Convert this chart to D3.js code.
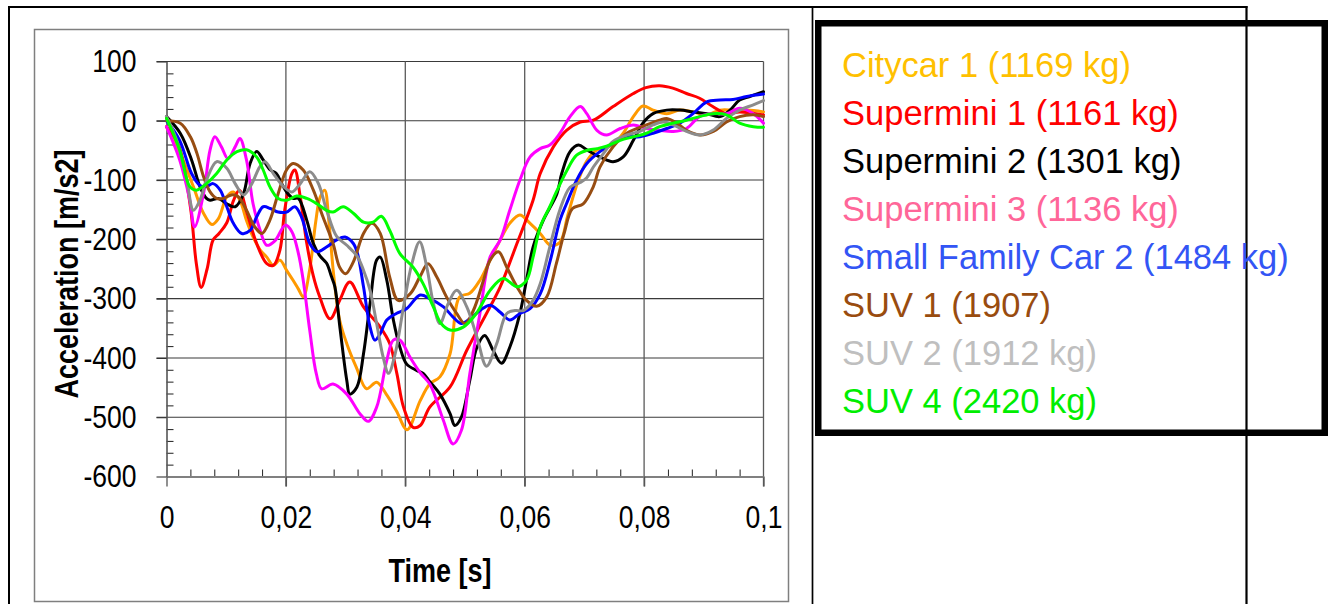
<!DOCTYPE html>
<html>
<head>
<meta charset="utf-8">
<script src="https://cdn.jsdelivr.net/npm/d3@7"></script>
<style>
  html, body { margin: 0; padding: 0; background: #fff; }
  svg { display: block; }
  text { font-family: "Liberation Sans", Arial, sans-serif; }
</style>
</head>
<body>
<svg id="chart" width="1328" height="604"></svg>
<script>
// Crash pulses: time [s] vs acceleration [m/s2], one array per vehicle
const citycar1 = [[0,-10],[0.0023,-55],[0.0045,-111],[0.0062,-156],[0.0076,-175],[0.0087,-165],[0.0101,-128],[0.0112,-120],[0.0123,-134],[0.0134,-168],[0.0145,-196],[0.0157,-218],[0.0168,-230],[0.0179,-244],[0.019,-235],[0.0201,-252],[0.0212,-269],[0.0221,-284],[0.0229,-297],[0.0240,-250],[0.0250,-170],[0.0257,-130],[0.0265,-117],[0.0272,-170],[0.0280,-260],[0.029,-336],[0.0302,-376],[0.0318,-416],[0.0335,-452],[0.0352,-441],[0.0368,-461],[0.0385,-489],[0.0403,-521],[0.0425,-472],[0.0441,-444],[0.0458,-432],[0.0475,-393],[0.0491,-297],[0.0508,-291],[0.0525,-269],[0.0542,-235],[0.0559,-201],[0.0575,-173],[0.0592,-159],[0.0609,-173],[0.0626,-190],[0.0643,-210],[0.0659,-205],[0.0672,-160],[0.0690,-100],[0.0704,-68],[0.0721,-49],[0.0737,-46],[0.0750,-38],[0.0765,-21],[0.0782,7],[0.0798,25],[0.0815,18],[0.0838,12],[0.0860,18],[0.0882,15],[0.0905,10],[0.0927,18],[0.0949,18],[0.0972,18],[0.1,15]];
const supermini1 = [[0,-10],[0.002,-40],[0.004,-145],[0.005,-241],[0.0058,-281],[0.0068,-250],[0.0078,-201],[0.0088,-190],[0.0101,-172],[0.0112,-135],[0.0122,-117],[0.0135,-156],[0.0151,-207],[0.0168,-241],[0.0179,-244],[0.019,-218],[0.0198,-151],[0.021,-89],[0.0215,-83],[0.0224,-128],[0.0235,-207],[0.0246,-262],[0.0256,-295],[0.0274,-334],[0.029,-303],[0.0307,-272],[0.033,-314],[0.0358,-348],[0.0374,-376],[0.0386,-427],[0.0397,-483],[0.0413,-517],[0.0425,-514],[0.0441,-483],[0.0475,-449],[0.0503,-387],[0.0536,-325],[0.0559,-280],[0.0587,-207],[0.0614,-134],[0.0626,-89],[0.0648,-44],[0.067,-16],[0.0693,-2],[0.0715,1],[0.0748,24],[0.0782,46],[0.0803,56],[0.0826,59],[0.0848,55],[0.0871,46],[0.0893,38],[0.0915,24],[0.0938,12],[0.096,15],[0.1,10]];
const supermini2 = [[0,7],[0.0023,-21],[0.0042,-66],[0.0056,-111],[0.0067,-131],[0.0073,-134],[0.0087,-131],[0.0101,-140],[0.0115,-145],[0.0129,-123],[0.014,-72],[0.0151,-52],[0.0162,-66],[0.0174,-83],[0.0184,-89],[0.0193,-106],[0.0201,-120],[0.0212,-131],[0.0221,-131],[0.0235,-168],[0.0246,-207],[0.0257,-228],[0.0268,-240],[0.0276,-262],[0.0282,-280],[0.0291,-353],[0.0302,-438],[0.0307,-461],[0.0319,-449],[0.033,-393],[0.0341,-308],[0.0352,-235],[0.0358,-230],[0.0369,-269],[0.038,-336],[0.0391,-382],[0.0402,-410],[0.0419,-421],[0.043,-426],[0.0441,-440],[0.0458,-461],[0.0475,-494],[0.0483,-514],[0.0494,-500],[0.0508,-438],[0.052,-382],[0.0533,-362],[0.0547,-387],[0.0561,-409],[0.0575,-382],[0.0592,-325],[0.0603,-269],[0.0614,-213],[0.0631,-168],[0.0654,-123],[0.0662,-89],[0.0676,-52],[0.069,-41],[0.0704,-49],[0.0726,-61],[0.0748,-69],[0.0765,-61],[0.0782,-33],[0.0798,-4],[0.0815,12],[0.0838,18],[0.086,18],[0.0882,15],[0.0905,12],[0.0927,7],[0.0944,18],[0.096,35],[0.0977,41],[0.1,49]];
const supermini3 = [[0,-10],[0.0022,-66],[0.0039,-134],[0.0047,-179],[0.0062,-123],[0.0073,-49],[0.0081,-27],[0.0092,-44],[0.0103,-64],[0.0115,-44],[0.0123,-30],[0.0134,-66],[0.0145,-140],[0.0157,-185],[0.0168,-210],[0.0182,-202],[0.0199,-176],[0.021,-187],[0.0221,-224],[0.0229,-269],[0.024,-354],[0.0251,-427],[0.026,-452],[0.0279,-444],[0.0302,-461],[0.0324,-494],[0.0338,-507],[0.0352,-483],[0.0369,-404],[0.038,-370],[0.0391,-370],[0.0408,-399],[0.0425,-425],[0.0441,-444],[0.0450,-465],[0.0464,-506],[0.048,-545],[0.0494,-522],[0.0508,-427],[0.0525,-325],[0.0542,-230],[0.0559,-201],[0.0575,-151],[0.0592,-100],[0.0609,-61],[0.0626,-47],[0.0642,-41],[0.0659,-21],[0.0676,7],[0.0693,24],[0.0704,12],[0.0721,-16],[0.0737,-24],[0.0760,-13],[0.0782,-7],[0.0804,-13],[0.0826,-16],[0.0849,-18],[0.0871,-13],[0.0893,7],[0.0915,12],[0.0938,12],[0.096,21],[0.0983,12],[0.1,-4]];
const smallFamilyCar2 = [[0,0],[0.0022,-33],[0.0042,-89],[0.0056,-109],[0.0067,-111],[0.0078,-106],[0.0090,-117],[0.0101,-145],[0.0112,-173],[0.0126,-190],[0.014,-185],[0.0151,-162],[0.0162,-145],[0.0174,-148],[0.0187,-154],[0.0201,-154],[0.0215,-145],[0.0226,-162],[0.024,-207],[0.0252,-221],[0.0268,-213],[0.0285,-201],[0.0299,-196],[0.0313,-207],[0.0320,-224],[0.0330,-280],[0.0341,-348],[0.0349,-370],[0.0358,-359],[0.0369,-336],[0.0385,-325],[0.0402,-317],[0.0425,-294],[0.0441,-300],[0.0464,-314],[0.048,-331],[0.0494,-342],[0.0508,-334],[0.0525,-320],[0.0542,-311],[0.0559,-323],[0.0575,-336],[0.0592,-325],[0.0609,-317],[0.0626,-292],[0.0643,-235],[0.0659,-168],[0.0670,-140],[0.0687,-100],[0.0704,-72],[0.0726,-52],[0.0748,-38],[0.0771,-27],[0.0793,-27],[0.0815,-21],[0.0838,-13],[0.086,-4],[0.0882,12],[0.0905,32],[0.0927,35],[0.0949,36],[0.0972,41],[0.1,45]];
const suv1 = [[0,0],[0.0023,-4],[0.004,-27],[0.0051,-55],[0.0062,-94],[0.0073,-120],[0.0084,-131],[0.0095,-131],[0.0109,-125],[0.012,-128],[0.0134,-151],[0.0148,-179],[0.016,-190],[0.0173,-168],[0.0187,-123],[0.0201,-83],[0.0212,-72],[0.0229,-83],[0.0246,-117],[0.0262,-162],[0.0279,-207],[0.029,-247],[0.0300,-258],[0.0313,-238],[0.033,-190],[0.0344,-173],[0.0358,-190],[0.0374,-264],[0.0388,-303],[0.0408,-292],[0.0425,-262],[0.0438,-241],[0.0453,-264],[0.0469,-297],[0.0486,-325],[0.05,-342],[0.0514,-320],[0.0531,-269],[0.0542,-235],[0.0556,-221],[0.057,-247],[0.0587,-280],[0.0603,-303],[0.062,-313],[0.0637,-297],[0.0653,-241],[0.0666,-190],[0.068,-148],[0.0698,-140],[0.0715,-111],[0.0726,-78],[0.0748,-44],[0.0771,-21],[0.0804,-7],[0.0826,1],[0.0838,4],[0.0855,-4],[0.0871,-16],[0.0894,-24],[0.0916,-18],[0.0938,-2],[0.096,7],[0.0983,10],[0.1,7]];
const suv2 = [[0,7],[0.0017,-33],[0.0034,-100],[0.0045,-151],[0.0056,-134],[0.0067,-100],[0.0084,-69],[0.0101,-80],[0.0115,-106],[0.0129,-125],[0.0143,-106],[0.0156,-78],[0.0165,-69],[0.0179,-89],[0.0196,-111],[0.021,-120],[0.0224,-106],[0.024,-86],[0.0254,-105],[0.0268,-150],[0.0285,-195],[0.0302,-210],[0.0319,-228],[0.033,-252],[0.0341,-286],[0.0352,-342],[0.0363,-399],[0.0372,-426],[0.0383,-393],[0.0397,-314],[0.0411,-241],[0.0424,-204],[0.0436,-247],[0.0447,-308],[0.0458,-342],[0.0472,-308],[0.0486,-286],[0.0503,-314],[0.052,-365],[0.0536,-414],[0.0553,-376],[0.057,-325],[0.0584,-320],[0.0598,-320],[0.0614,-303],[0.0626,-275],[0.0642,-213],[0.0659,-150],[0.0676,-112],[0.0693,-104],[0.0704,-96],[0.0715,-78],[0.0732,-55],[0.0748,-35],[0.0771,-24],[0.0793,-18],[0.0815,-7],[0.0832,-2],[0.0849,-7],[0.0871,-18],[0.0893,-24],[0.0915,-16],[0.0938,4],[0.096,18],[0.0983,27],[0.1,34]];
const suv4 = [[0,4],[0.0022,-49],[0.0039,-111],[0.0050,-117],[0.0067,-106],[0.0084,-89],[0.0101,-66],[0.0118,-52],[0.0134,-49],[0.0151,-61],[0.0162,-83],[0.0173,-111],[0.0187,-131],[0.0201,-134],[0.0218,-127],[0.0235,-131],[0.0252,-140],[0.0268,-151],[0.0279,-154],[0.0296,-145],[0.0313,-156],[0.033,-171],[0.0346,-171],[0.036,-161],[0.0374,-185],[0.0391,-224],[0.0413,-247],[0.043,-275],[0.0447,-314],[0.046,-342],[0.0475,-353],[0.0497,-348],[0.0519,-325],[0.0542,-286],[0.0564,-266],[0.0587,-280],[0.0603,-269],[0.0614,-230],[0.0626,-179],[0.0642,-145],[0.0653,-120],[0.0670,-85],[0.0687,-58],[0.0704,-50],[0.0721,-47],[0.0737,-43],[0.076,-33],[0.0782,-27],[0.0804,-21],[0.0826,-10],[0.0849,-4],[0.0871,1],[0.0893,7],[0.0915,12],[0.0938,10],[0.096,-4],[0.0983,-10],[0.1,-11]];

const seriesLabels = ["Citycar 1 (1169 kg)", "Supermini 1 (1161 kg)", "Supermini 2 (1301 kg)", "Supermini 3 (1136 kg)",
                      "Small Family Car 2 (1484 kg)", "SUV 1 (1907)", "SUV 2 (1912 kg)", "SUV 4 (2420 kg)"];
const seriesValues = [citycar1, supermini1, supermini2, supermini3, smallFamilyCar2, suv1, suv2, suv4];

const yTicks = [-600, -500, -400, -300, -200, -100, 0, 100];
const xTicks = [0, 0.02, 0.04, 0.06, 0.08, 0.1];
const xTickLabels = ["0", "0,02", "0,04", "0,06", "0,08", "0,1"];
const xTitle = "Time [s]";
const yTitle = "Acceleration [m/s2]";

// Styling
const lineColors = ["#FF9900", "#FF0000", "#000000", "#FF00FF", "#0000FF", "#974D12", "#8C8C8C", "#00FF00"];
const legendColors = ["#FFC000", "#FF0000", "#000000", "#FF6699", "#3355F5", "#994C0F", "#BFBFBF", "#00EE00"];

const svg = d3.select("#chart");

// Surrounding table lines
svg.append("line").attr("x1", 8).attr("x2", 1247.5).attr("y1", 7).attr("y2", 7).attr("stroke", "#000").attr("stroke-width", 2);
svg.append("line").attr("x1", 9).attr("x2", 9).attr("y1", 6).attr("y2", 604).attr("stroke", "#000").attr("stroke-width", 2);
svg.append("line").attr("x1", 812.5).attr("x2", 812.5).attr("y1", 6).attr("y2", 604).attr("stroke", "#000").attr("stroke-width", 1.7);
svg.append("line").attr("x1", 1246.5).attr("x2", 1246.5).attr("y1", 6).attr("y2", 604).attr("stroke", "#000").attr("stroke-width", 2.2);

// Chart frame
svg.append("rect").attr("x", 34.5).attr("y", 29.5).attr("width", 754).attr("height", 572)
  .attr("fill", "none").attr("stroke", "#7f7f7f").attr("stroke-width", 1.5);

const x = d3.scaleLinear().domain([0, 0.1]).range([166.5, 763.5]);
const y = d3.scaleLinear().domain([-600, 100]).range([476.5, 61.5]);

// Grid
const grid = svg.append("g");
grid.selectAll("line.h").data(yTicks.filter(v => v > -600)).join("line")
  .attr("x1", x(0) - 10).attr("x2", x(0.1)).attr("y1", d => y(d)).attr("y2", d => y(d))
  .attr("stroke", "#3a3a3a").attr("stroke-width", 1.1);
grid.selectAll("line.v").data(xTicks.filter(v => v > 0)).join("line")
  .attr("x1", d => x(d)).attr("x2", d => x(d)).attr("y1", y(100)).attr("y2", y(-600) + 10)
  .attr("stroke", "#5a5a5a").attr("stroke-width", 1.3);

// Minor ticks (inside)
const yMinor = d3.range(-600, 101, 20).filter(v => v % 100 !== 0);
const xMinor = d3.range(0, 26).map(i => i * 0.004).filter((v, i) => i % 5 !== 0);
svg.append("g").attr("transform", `translate(${x(0)},0)`)
  .call(d3.axisRight(y).tickValues(yMinor).tickSize(7).tickFormat(""))
  .call(g => g.select(".domain").remove())
  .selectAll("line").attr("stroke", "#333").attr("stroke-width", 1.1);
svg.append("g").attr("transform", `translate(0,${y(-600)})`)
  .call(d3.axisTop(x).tickValues(xMinor).tickSize(7).tickFormat(""))
  .call(g => g.select(".domain").remove())
  .selectAll("line").attr("stroke", "#333").attr("stroke-width", 1.1);

// Y axis
const yAxis = svg.append("g").attr("transform", `translate(${x(0)},0)`)
  .call(d3.axisLeft(y).tickValues(yTicks).tickSize(10).tickSizeOuter(0).tickFormat(d => String(d)));
yAxis.select(".domain").attr("stroke", "#555").attr("stroke-width", 1.6);
yAxis.selectAll(".tick line").attr("stroke", "#333").attr("stroke-width", 1.1);
yAxis.selectAll(".tick text")
  .attr("x", null).attr("dy", null)
  .attr("transform", "translate(-30,10.3) scale(1,1.2)")
  .attr("text-anchor", "end").attr("fill", "#000")
  .style("font-size", "26.5px").style("font-family", '"Liberation Sans", Arial, sans-serif');

// X axis
const xAxis = svg.append("g").attr("transform", `translate(0,${y(-600)})`)
  .call(d3.axisBottom(x).tickValues(xTicks).tickSize(10).tickSizeOuter(0).tickFormat((d, i) => xTickLabels[i]));
xAxis.select(".domain").attr("stroke", "#808080").attr("stroke-width", 2);
xAxis.selectAll(".tick line").attr("stroke", "#555").attr("stroke-width", 1.3);
xAxis.selectAll(".tick text")
  .attr("y", null).attr("dy", null)
  .attr("transform", "translate(0,51) scale(1,1.2)")
  .attr("text-anchor", "middle").attr("fill", "#000")
  .style("font-size", "26.5px").style("font-family", '"Liberation Sans", Arial, sans-serif');

// Axis titles
svg.append("text").attr("transform", "translate(440,581.5) scale(1,1.2)")
  .attr("text-anchor", "middle").style("font-size", "27px").style("font-weight", "bold").text(xTitle);
svg.append("text").attr("transform", "translate(77.5,274) rotate(-90) scale(1,1.2)")
  .attr("text-anchor", "middle").style("font-size", "27px").style("font-weight", "bold").text(yTitle);

// Series
const line = d3.line().x(d => x(d[0])).y(d => y(d[1])).curve(d3.curveCatmullRom.alpha(0.5));
svg.append("g").selectAll("path").data(seriesValues).join("path")
  .attr("d", line).attr("fill", "none")
  .attr("stroke", (d, i) => lineColors[i]).attr("stroke-width", 3)
  .attr("stroke-linejoin", "round").attr("stroke-linecap", "round");

// Legend
svg.append("rect").attr("x", 818.25).attr("y", 23.25).attr("width", 506.5).attr("height", 409.5)
  .attr("fill", "none").attr("stroke", "#000").attr("stroke-width", 6.5);
svg.append("g").selectAll("text").data(seriesLabels).join("text")
  .attr("x", 842).attr("y", (d, i) => 77.4 + i * 48.0)
  .attr("fill", (d, i) => legendColors[i])
  .style("font-size", "34.5px").text(d => d);
</script>
</body>
</html>
